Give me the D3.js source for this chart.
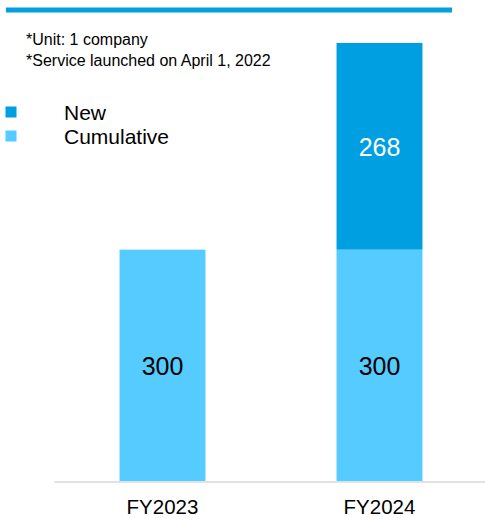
<!DOCTYPE html>
<html>
<head>
<meta charset="utf-8">
<script src="https://cdn.jsdelivr.net/npm/d3@7/dist/d3.min.js"></script>
<style>
  html, body { margin: 0; padding: 0; background: #fff; }
  svg { display: block; font-family: Arial, "Liberation Sans", sans-serif; }
</style>
</head>
<body>
<svg id="chart" width="485" height="519"></svg>
<script>
// Number of companies using the service, by fiscal year
const categories = ["FY2023", "FY2024"];
const cumulative = [300, 300];
const newlyAdded = [0, 268];
const seriesNames = ["New", "Cumulative"];
const notes = ["*Unit: 1 company", "*Service launched on April 1, 2022"];
const headerText = "(Company)";

const colors = { New: "#009fe2", Cumulative: "#55cbff" };

const svg = d3.select("#chart");

// header rule (title text sits above the visible area)
svg.append("text")
  .attr("x", 449).attr("y", -3)
  .attr("text-anchor", "end")
  .attr("font-size", 16).attr("font-weight", "bold")
  .attr("fill", "#000")
  .text(headerText);
svg.append("rect")
  .attr("x", 6).attr("y", 7.5).attr("width", 446).attr("height", 5)
  .attr("fill", colors.New);

// notes
svg.selectAll("text.note").data(notes).join("text")
  .attr("class", "note")
  .attr("x", 26).attr("y", (d, i) => 45 + i * 21)
  .attr("font-size", 16)
  .attr("fill", "#000")
  .text(d => d);

// scales
const x = d3.scaleBand().domain(categories).range([54, 488])
  .paddingInner(0.604).paddingOuter(0.302);
const totals = categories.map((c, i) => cumulative[i] + newlyAdded[i]);
const y = d3.scaleLinear().domain([0, d3.max(totals)]).range([481, 43]);

// stacked data
const rows = categories.map((c, i) => ({ cat: c, Cumulative: cumulative[i], New: newlyAdded[i] }));
const stack = d3.stack().keys(["Cumulative", "New"])(rows);

const layers = svg.selectAll("g.layer").data(stack).join("g")
  .attr("class", "layer")
  .attr("fill", d => colors[d.key]);

layers.selectAll("rect").data(d => d.filter(s => s[1] - s[0] > 0)).join("rect")
  .attr("x", d => x(d.data.cat))
  .attr("width", x.bandwidth())
  .attr("y", d => y(d[1]))
  .attr("height", d => y(d[0]) - y(d[1]));

// value labels
stack.forEach(layer => {
  svg.append("g").selectAll("text").data(layer.filter(s => s[1] - s[0] > 0)).join("text")
    .attr("x", d => x(d.data.cat) + x.bandwidth() / 2)
    .attr("y", d => (y(d[0]) + y(d[1])) / 2 + 10)
    .attr("text-anchor", "middle")
    .attr("font-size", 25)
    .attr("fill", layer.key === "New" ? "#fff" : "#000")
    .text(d => d[1] - d[0]);
});

// baseline axis
const axis = svg.append("g")
  .attr("transform", "translate(0,481.5)")
  .call(d3.axisBottom(x).tickSize(0).tickPadding(18));
axis.select(".domain").attr("stroke", "#d9d9d9").attr("stroke-width", 1.5);
axis.selectAll(".tick text")
  .attr("font-size", 20.5)
  .attr("font-family", "Arial, 'Liberation Sans', sans-serif")
  .attr("fill", "#000");

// legend
const legend = svg.append("g");
seriesNames.forEach((name, i) => {
  legend.append("rect")
    .attr("x", 5.5).attr("y", 106.5 + i * 24)
    .attr("width", 11).attr("height", 11)
    .attr("fill", colors[name]);
  legend.append("text")
    .attr("x", 64).attr("y", 120 + i * 24)
    .attr("font-size", 21)
    .attr("fill", "#000")
    .text(name);
});
</script>
</body>
</html>
